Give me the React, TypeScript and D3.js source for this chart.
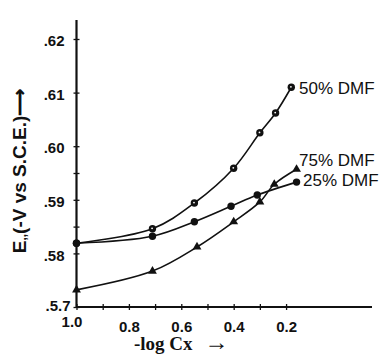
import { useEffect, useRef } from 'react';
import * as d3 from 'd3';

// -log Cx positions and E1/2 values
const X50 = [1.0, 0.71, 0.55, 0.4, 0.3, 0.24, 0.18];
const Y50 = [0.5819, 0.5846, 0.5894, 0.5959, 0.6025, 0.6062, 0.611];

const X25 = [1.0, 0.71, 0.55, 0.41, 0.31, 0.16];
const Y25 = [0.5819, 0.5832, 0.5859, 0.5888, 0.5909, 0.5933];

const X75 = [1.0, 0.71, 0.54, 0.4, 0.3, 0.245, 0.16];
const Y75 = [0.5732, 0.5767, 0.5812, 0.5859, 0.5896, 0.5929, 0.5957];

const Y_TICKS = [0.57, 0.58, 0.585, 0.59, 0.595, 0.6, 0.61, 0.62];
const Y_LABELS: Record<string, string> = {
  '0.57': '.5.7', '0.58': '.58', '0.59': '.59', '0.6': '.60', '0.61': '.61', '0.62': '.62',
};
const X_TICKS = [1.0, 0.9, 0.8, 0.7, 0.6, 0.5, 0.4, 0.3, 0.2];
const X_LABELS: Record<string, string> = { '1': '1.0', '0.8': '0.8', '0.6': '0.6', '0.4': '0.4', '0.2': '0.2' };

const SERIES = [
  { name: '50% DMF', xs: X50, ys: Y50, marker: 'dot' },
  { name: '25% DMF', xs: X25, ys: Y25, marker: 'circle' },
  { name: '75% DMF', xs: X75, ys: Y75, marker: 'tri' },
];

function Chart() {
  const ref = useRef<SVGSVGElement>(null);

  useEffect(() => {
    if (!ref.current) return;
    const svg = d3.select(ref.current);
    svg.selectAll('*').remove();

    const x = d3.scaleLinear().domain([1.0, -0.128]).range([76.5, 372]);
    const y = d3.scaleLinear().domain([0.57, 0.62]).range([307, 39]);
    const font = '"Liberation Sans", Arial, sans-serif';

    // y axis
    const ya = svg.append('g').attr('transform', `translate(${x(1.0)},0)`)
      .call(d3.axisLeft(y).tickValues(Y_TICKS).tickSize(3)
        .tickFormat(d => Y_LABELS[String(+d)] ?? ''));
    ya.select('.domain').remove();
    ya.selectAll('.tick line').attr('x1', 3).attr('stroke', '#111').attr('stroke-width', 1.3);
    ya.selectAll('.tick text').attr('x', -12).attr('dy', '0.45em')
      .attr('font-family', font).attr('font-weight', 'bold').attr('font-size', 15).attr('fill', '#111');
    ya.selectAll<SVGTextElement, number>('.tick text').filter(d => d === 0.57).attr('x', -6).attr('dy', '0.2em');
    svg.append('line').attr('x1', x(1.0)).attr('x2', x(1.0)).attr('y1', 20).attr('y2', y(0.57))
      .attr('stroke', '#111').attr('stroke-width', 2.2);

    // x axis
    const xa = svg.append('g').attr('transform', `translate(0,${y(0.57)})`)
      .call(d3.axisBottom(x).tickValues(X_TICKS).tickSize(3)
        .tickFormat(d => X_LABELS[String(+d)] ?? ''));
    xa.select('.domain').remove();
    xa.selectAll('.tick line').attr('y1', -3).attr('stroke', '#111').attr('stroke-width', 1.3);
    xa.selectAll('.tick text').attr('y', 14).attr('dy', '0.71em')
      .attr('font-family', font).attr('font-weight', 'bold').attr('font-size', 15).attr('fill', '#111');
    xa.selectAll<SVGTextElement, number>('.tick text').filter(d => d === 1.0).attr('x', -5).attr('y', 9);
    svg.append('line').attr('x1', x(1.0)).attr('x2', 372).attr('y1', y(0.57)).attr('y2', y(0.57))
      .attr('stroke', '#111').attr('stroke-width', 2.2);

    // axis titles
    const yt = svg.append('text').attr('transform', 'translate(26,171) rotate(-90)')
      .attr('text-anchor', 'middle').attr('font-family', font).attr('font-weight', 'bold')
      .attr('font-size', 19).attr('fill', '#111');
    yt.append('tspan').text('E');
    yt.append('tspan').attr('font-size', 12).text(',,');
    yt.append('tspan').text('(-V vs S.C.E.)⟶');

    const xt = svg.append('text').attr('x', 134).attr('y', 350)
      .attr('font-family', '"Liberation Serif", "DejaVu Serif", serif').attr('font-weight', 'bold')
      .attr('font-size', 19).attr('fill', '#111');
    xt.append('tspan').text('-log Cx');
    xt.append('tspan').attr('dx', 12).attr('font-size', 24).text('→');

    // curves + markers
    const line = d3.line<[number, number]>()
      .x(d => x(d[0])).y(d => y(d[1]))
      .curve(d3.curveCatmullRom.alpha(0.5));

    SERIES.forEach(s => {
      const pts: [number, number][] = s.xs.map((v, i) => [v, s.ys[i]]);
      svg.append('path').datum(pts).attr('d', line)
        .attr('fill', 'none').attr('stroke', '#111').attr('stroke-width', 1.6);
      const g = svg.append('g');
      pts.forEach(p => {
        const cx = x(p[0]), cy = y(p[1]);
        if (s.marker === 'tri') {
          g.append('path').attr('d', d3.symbol(d3.symbolTriangle, 34)())
            .attr('transform', `translate(${cx},${cy})`).attr('fill', '#111');
        } else {
          g.append('circle').attr('cx', cx).attr('cy', cy).attr('r', 3.7).attr('fill', '#111');
          if (s.marker === 'dot') {
            g.append('circle').attr('cx', cx - 0.4).attr('cy', cy - 0.4).attr('r', 0.9).attr('fill', '#fff');
          }
        }
      });
    });

    // series labels
    const lab = [
      { t: '50% DMF', x: 299, y: 88 },
      { t: '75% DMF', x: 299, y: 160 },
      { t: '25% DMF', x: 303, y: 180 },
    ];
    lab.forEach(l => {
      svg.append('text').attr('x', l.x).attr('y', l.y).attr('dy', '0.36em')
        .attr('font-family', font).attr('font-size', 17).attr('fill', '#111').text(l.t);
    });
  }, []);

  return <svg ref={ref} width={381} height={354} style={{ position: 'absolute', left: 0, top: 0, background: '#fff' }} />;
}

export default function App() {
  return <Chart />;
}
